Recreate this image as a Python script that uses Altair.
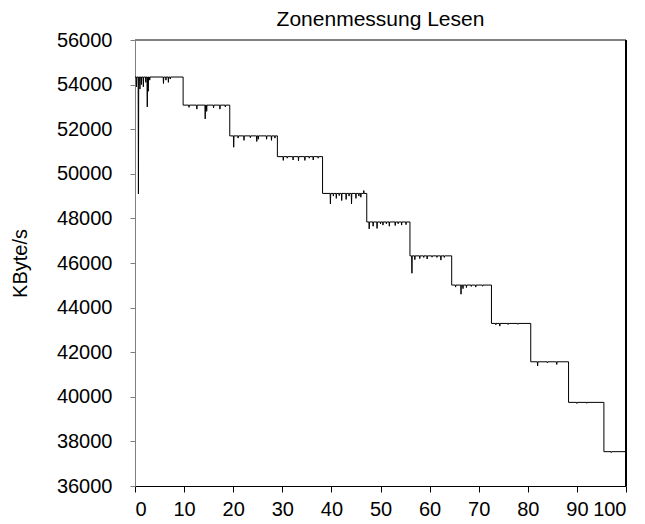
import altair as alt
import pandas as pd

# Step levels (KByte/s) and the zone boundaries on the x axis
levels = [54340, 53080, 51700, 50770, 49120, 47840, 46320, 45010, 43290, 41570, 39750, 37540]
step_x = [0, 9.8, 19.3, 29.0, 38.2, 47.2, 56.0, 64.5, 72.6, 80.6, 88.3, 95.5, 100]

# Short dips / spikes
spike_x = [0.3, 0.7, 1.0, 1.3, 1.7, 2.2, 2.5, 2.7, 3.0, 5.8, 6.3, 6.8, 7.2,
           11.0, 12.6, 14.3, 14.6, 16.0, 17.3, 18.4,
           20.1, 21.0, 22.2, 23.5, 24.8, 25.1, 26.8, 27.8, 28.5,
           30.2, 31.0, 32.2, 33.3, 34.6, 35.5, 36.3, 37.3,
           39.8, 40.4, 41.0, 41.6, 42.1, 43.0, 43.6, 44.1, 45.0, 45.6, 46.0, 46.6,
           47.7, 48.5, 49.3, 50.0, 50.5, 51.2, 51.8, 53.0, 53.6, 54.3, 55.2,
           56.4, 57.0, 58.0, 58.8, 59.5, 60.5, 61.5, 62.3, 63.0,
           65.3, 66.4, 66.8, 67.5, 68.5, 69.4, 70.8,
           73.5, 74.3, 76.0, 78.0,
           82.0, 84.0, 85.9,
           90.0, 92.0,
           97.0]
spike_val = [53900, 49100, 53800, 54000, 53900, 54100, 53000, 53700, 54200, 54050, 54200, 54100, 54250,
             52980, 52900, 52460, 52800, 52950, 52900, 53000,
             51190, 51600, 51500, 51620, 51450, 51550, 51550, 51500, 51600,
             50600, 50700, 50620, 50580, 50600, 50700, 50620, 50700,
             48650, 49000, 48900, 49020, 48800, 48850, 49000, 48650, 48900, 49000, 48950, 49250,
             47530, 47650, 47550, 47750, 47700, 47760, 47650, 47680, 47760, 47700, 47720,
             45540, 46150, 46200, 46250, 46180, 46260, 46250, 46130, 46250,
             44920, 44600, 44850, 44900, 44950, 44920, 44960,
             43230, 43170, 43240, 43250,
             41380, 41520, 41450,
             39700, 39710,
             37500]

rows = []
eps = 0.06
for i, lvl in enumerate(levels):
    x0, x1 = step_x[i], step_x[i + 1]
    rows.append((x0, lvl))
    for sx, sv in zip(spike_x, spike_val):
        if x0 < sx < x1:
            rows.append((sx - eps, lvl))
            rows.append((sx, sv))
            rows.append((sx + eps, lvl))
    rows.append((x1, lvl))

df = pd.DataFrame(rows, columns=["x", "y"])
df["idx"] = range(len(df))

W, H = 491, 446

line = alt.Chart(df).mark_line(color="black", strokeWidth=1).encode(
    x=alt.X("x:Q", scale=alt.Scale(domain=[0, 100], nice=False),
            axis=alt.Axis(values=list(range(0, 101, 10)), title=None, grid=False,
                          domainColor="black", tickColor="black", tickSize=6,
                          labelPadding=7, labelFontSize=20, labelColor="black",
                          labelFont="Liberation Sans")),
    y=alt.Y("y:Q", scale=alt.Scale(domain=[36000, 56000], nice=False),
            axis=alt.Axis(values=list(range(36000, 56001, 2000)), format="d",
                          title="KByte/s", grid=False, domainColor="#808080",
                          tickColor="#808080", tickSize=5, labelPadding=18,
                          labelFontSize=20, labelColor="black", labelFont="Liberation Sans",
                          titleFontSize=20, titleFont="Liberation Sans", titleFontWeight="normal",
                          titleColor="black", titlePadding=26)),
    order="idx:Q",
)

top_rule = alt.Chart(df).mark_rule(color="#808080", strokeWidth=1).encode(
    x=alt.value(0), x2=alt.value(W), y=alt.value(0)
)
right_rule = alt.Chart(df).mark_rule(color="black", strokeWidth=1).encode(
    x=alt.value(W), y=alt.value(0), y2=alt.value(H)
)

chart = alt.layer(line, top_rule, right_rule).properties(
    width=W, height=H,
    title=alt.TitleParams("Zonenmessung Lesen", fontSize=21, fontWeight="normal",
                          font="Liberation Sans", color="black", anchor="middle", offset=0),
    autosize=alt.AutoSizeParams(type="none"),
    padding={"left": 127, "top": 32, "right": 11, "bottom": 38},
).configure_view(stroke=None)

chart.save("out.html", embed_options={"renderer": "svg", "actions": False})
